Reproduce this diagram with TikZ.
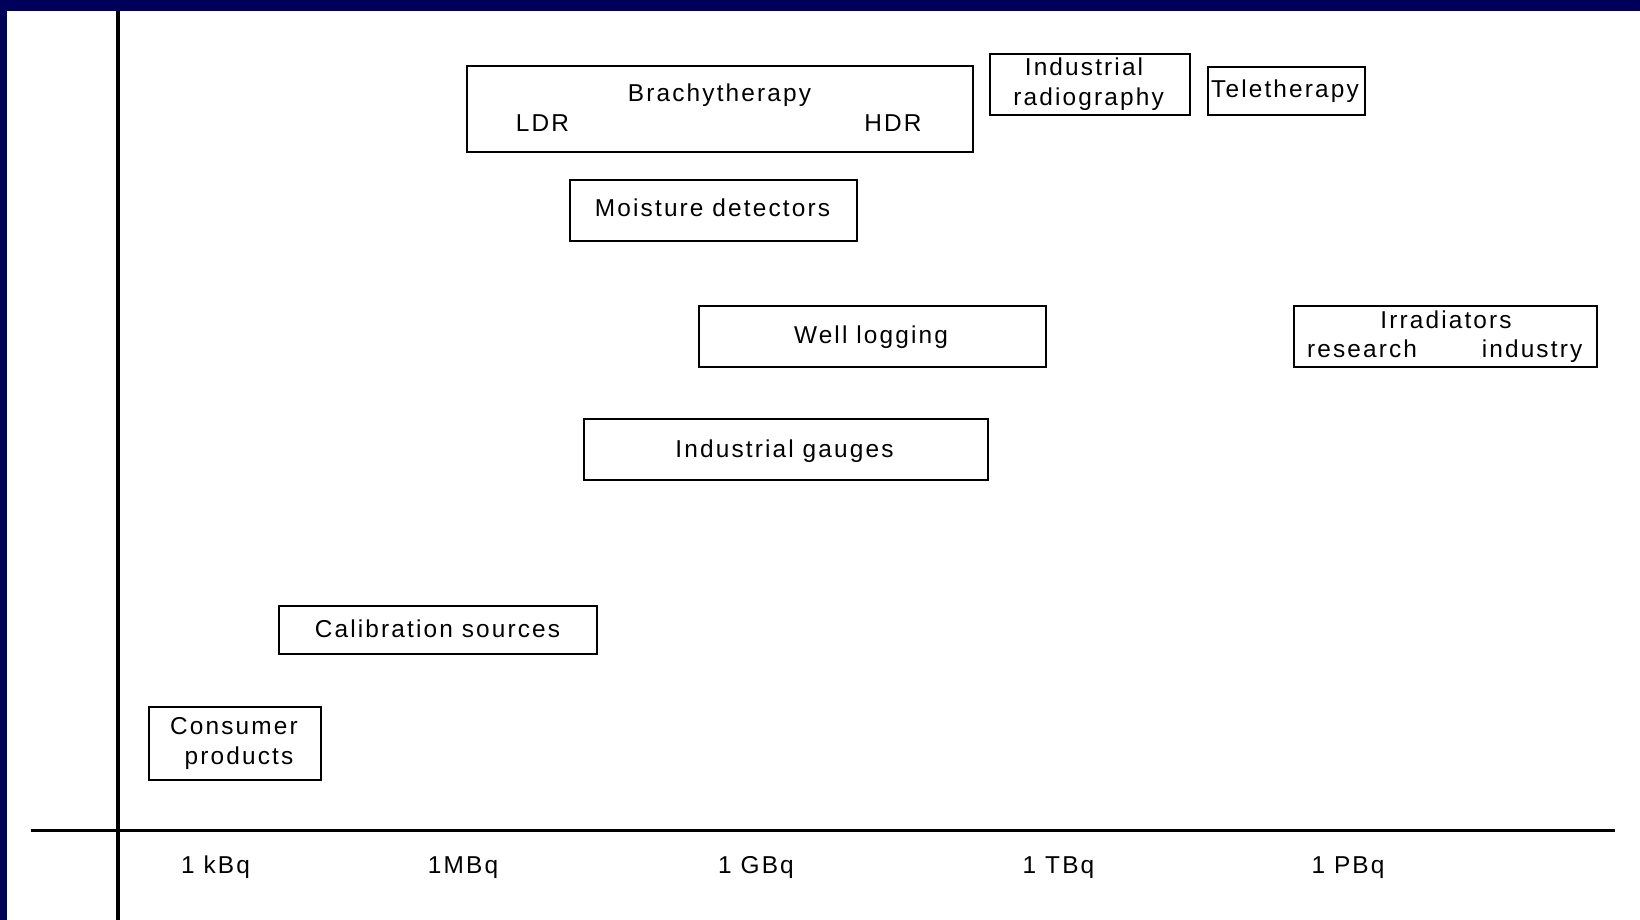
\documentclass[tikz,border=0pt]{standalone}
\usepackage{fontspec}
\setmainfont{Liberation Sans}
\newfontfamily\spcfont[LetterSpace=8.8]{Liberation Sans}
\definecolor{framenavy}{RGB}{0,0,90}
\begin{document}
\begin{tikzpicture}[x=1pt,y=-1pt,
  boxstyle/.style={draw=black,line width=2pt,inner sep=0pt},
  lbl/.style={inner sep=0pt,anchor=base,font=\spcfont\fontsize{24.4}{29}\selectfont,text=black},
  axisline/.style={draw=black,line width=3pt}]
\useasboundingbox (0,0) rectangle (1640,920);
\fill[white] (0,0) rectangle (1640,920);
\fill[framenavy] (0,0) rectangle (1640,11);
\fill[framenavy] (0,0) rectangle (7,920);
% axes
\coordinate (vtop) at (118,11);
\coordinate (vbot) at (118,920);
\coordinate (hl) at (31,830.5);
\coordinate (hr) at (1615,830.5);
\draw[axisline,line width=4pt] (vtop) -- (vbot);
\draw[axisline] (hl) -- (hr);
% boxes
\newcommand{\bx}[5]{\node[boxstyle,anchor=north west,minimum width={#4-#2},minimum height={#5-#3}] (#1) at (#2,#3) {};}
\bx{brachy}{466}{65.5}{972}{151.5}
\bx{indrad}{989}{53}{1189}{114}
\bx{tele}{1207}{66}{1364}{114}
\bx{moist}{568.5}{179}{856}{239.5}
\bx{well}{698}{305}{1044.5}{365.5}
\bx{irr}{1293}{305}{1596}{365.5}
\bx{gauge}{582.5}{418}{986.5}{479}
\bx{calib}{278}{605}{596}{653}
\bx{cons}{147.5}{706}{320}{779}
% texts
\node[lbl] (tbrachy) at (719.5,101.7) {Brachytherapy};
\node[lbl] (tldr) at (542.5,131.5) {LDR};
\node[lbl] (thdr) at (893,131.5) {HDR};
\node[lbl] (tind1) at (1084,76) {Industrial};
\node[lbl] (tind2) at (1088.6,105.6) {radiography};
\node[lbl] (ttele) at (1285,98) {Teletherapy};
\node[lbl] (tmoist) at (712.5,216) {Moisture detectors};
\node[lbl] (twell) at (871,343.8) {Well logging};
\node[lbl] (tirr) at (1446,328) {Irradiators};
\node[lbl] (tres) at (1362,357) {research};
\node[lbl] (tindu) at (1532,357) {industry};
\node[lbl] (tgauge) at (784.5,457.7) {Industrial gauges};
\node[lbl] (tcalib) at (437.5,637) {Calibration sources};
\node[lbl] (tcons1) at (234,734) {Consumer};
\node[lbl] (tcons2) at (239,764) {products};
% axis labels
\node[lbl] (kbq) at (215.5,873) {1 kBq};
\node[lbl] (mbq) at (463,873) {1MBq};
\node[lbl] (gbq) at (756,873) {1 GBq};
\node[lbl] (tbq) at (1058.5,873) {1 TBq};
\node[lbl] (pbq) at (1348,873) {1 PBq};
\end{tikzpicture}
\end{document}
